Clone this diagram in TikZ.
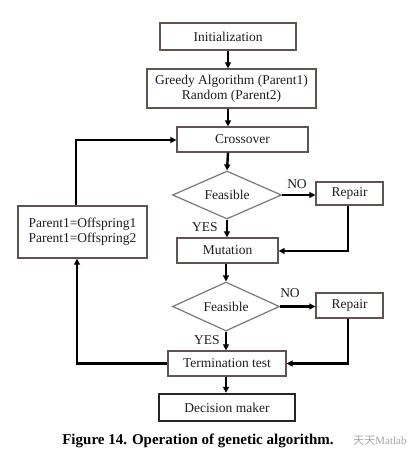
\documentclass[tikz,border=0pt]{standalone}
\usepackage{fontspec}
\setmainfont{Liberation Serif}
\newfontfamily\cjkfont{Noto Sans CJK SC}
\usetikzlibrary{shapes.geometric,arrows.meta}
\definecolor{boxline}{RGB}{95,85,80}
\definecolor{txt}{RGB}{30,30,30}
\begin{document}
\begin{tikzpicture}[x=1pt,y=-1pt,
  box/.style={draw=boxline,line width=1.3pt,rectangle,inner sep=0pt,text=txt,font=\fontsize{13.5}{15}\selectfont,align=center},
  dia/.style={draw=boxline!80,line width=1.2pt,diamond,inner sep=0pt,aspect=2.2,text=txt,font=\fontsize{13.5}{15}\selectfont},
  conn/.style={line width=2.4pt,black},
  arr/.style={conn,-{Triangle[length=6pt,width=6pt]}},
  lab/.style={text=txt,font=\fontsize{13.5}{15}\selectfont,inner sep=0pt}]
\useasboundingbox (0,0) rectangle (419,459);
\fill[white] (0,0) rectangle (419,459);
\node[box,minimum width=136pt,minimum height=27pt] (init) at (228,36.5) {Initialization};
\node[box,minimum width=169pt,minimum height=39pt] (greedy) at (231.5,88.5) {Greedy Algorithm (Parent1)\\Random (Parent2)};
\node[box,minimum width=131pt,minimum height=25pt] (cross) at (242.5,139.5) {Crossover};
\node[dia,minimum width=109pt,minimum height=48pt] (dia1) at (227,195) {Feasible};
\node[box,minimum width=67pt,minimum height=23pt] (rep1) at (349.5,193.5) {Repair};
\node[box,minimum width=101pt,minimum height=25pt] (mut) at (227.5,250.5) {Mutation};
\node[dia,minimum width=107pt,minimum height=49pt] (dia2) at (226,306.5) {Feasible};
\node[box,minimum width=67pt,minimum height=25pt] (rep2) at (349.5,305.5) {Repair};
\node[box,minimum width=118pt,minimum height=25pt] (term) at (227,363.5) {Termination test};
\node[box,draw=black!85,line width=2.4pt,minimum width=136pt,minimum height=27pt] (dec) at (227,407.5) {Decision maker};
\node[box,minimum width=129pt,minimum height=52pt] (par) at (82.5,232) {Parent1=Offspring1\\Parent1=Offspring2};

\coordinate (v) at (228,0);
\draw[arr] (v |- init.south) -- (v |- greedy.north);
\draw[arr] (v |- greedy.south) -- (v |- cross.north);
\draw[arr] (v |- cross.south) -- (dia1.north);
\draw[arr] (dia1.south) -- (dia1.south |- mut.north);
\draw[arr] (dia1.east) -- (rep1.west |- dia1.east);
\draw[arr] (mut.south -| dia2.north) -- (dia2.north);
\draw[arr] (dia2.south) -- (dia2.south |- term.north);
\draw[arr] (dia2.east) -- (rep2.west |- dia2.east);
\draw[arr] (dia2.south |- term.south) -- (dia2.south |- dec.north);

\coordinate (r1) at (348,251);
\draw[arr] (r1 |- rep1.south) -- (r1) -- (mut.east |- r1);
\coordinate (r2) at (348,363.5);
\draw[arr] (r2 |- rep2.south) -- (r2) -- (term.east);

\coordinate (l1) at (77,363.5);
\draw[arr] (term.west) -- (l1) -- (l1 |- par.south);
\coordinate (l2) at (76,140);
\draw[arr] (l2 |- par.north) -- (l2) -- (cross.west |- l2);

\node[lab] (no1) at (297,184) {NO};
\node[lab] (yes1) at (205,227) {YES};
\node[lab] (no2) at (290,293) {NO};
\node[lab] (yes2) at (207,340) {YES};

\node[inner sep=0pt,font=\bfseries\fontsize{15}{17}\selectfont] (cap) at (198,441) {Figure 14. Operation of genetic algorithm.};
\node[inner sep=0pt,text=black!35,font=\fontsize{11}{13}\selectfont] (wm) at (380,441) {{\cjkfont 天天}Matlab};
\end{tikzpicture}
\end{document}
